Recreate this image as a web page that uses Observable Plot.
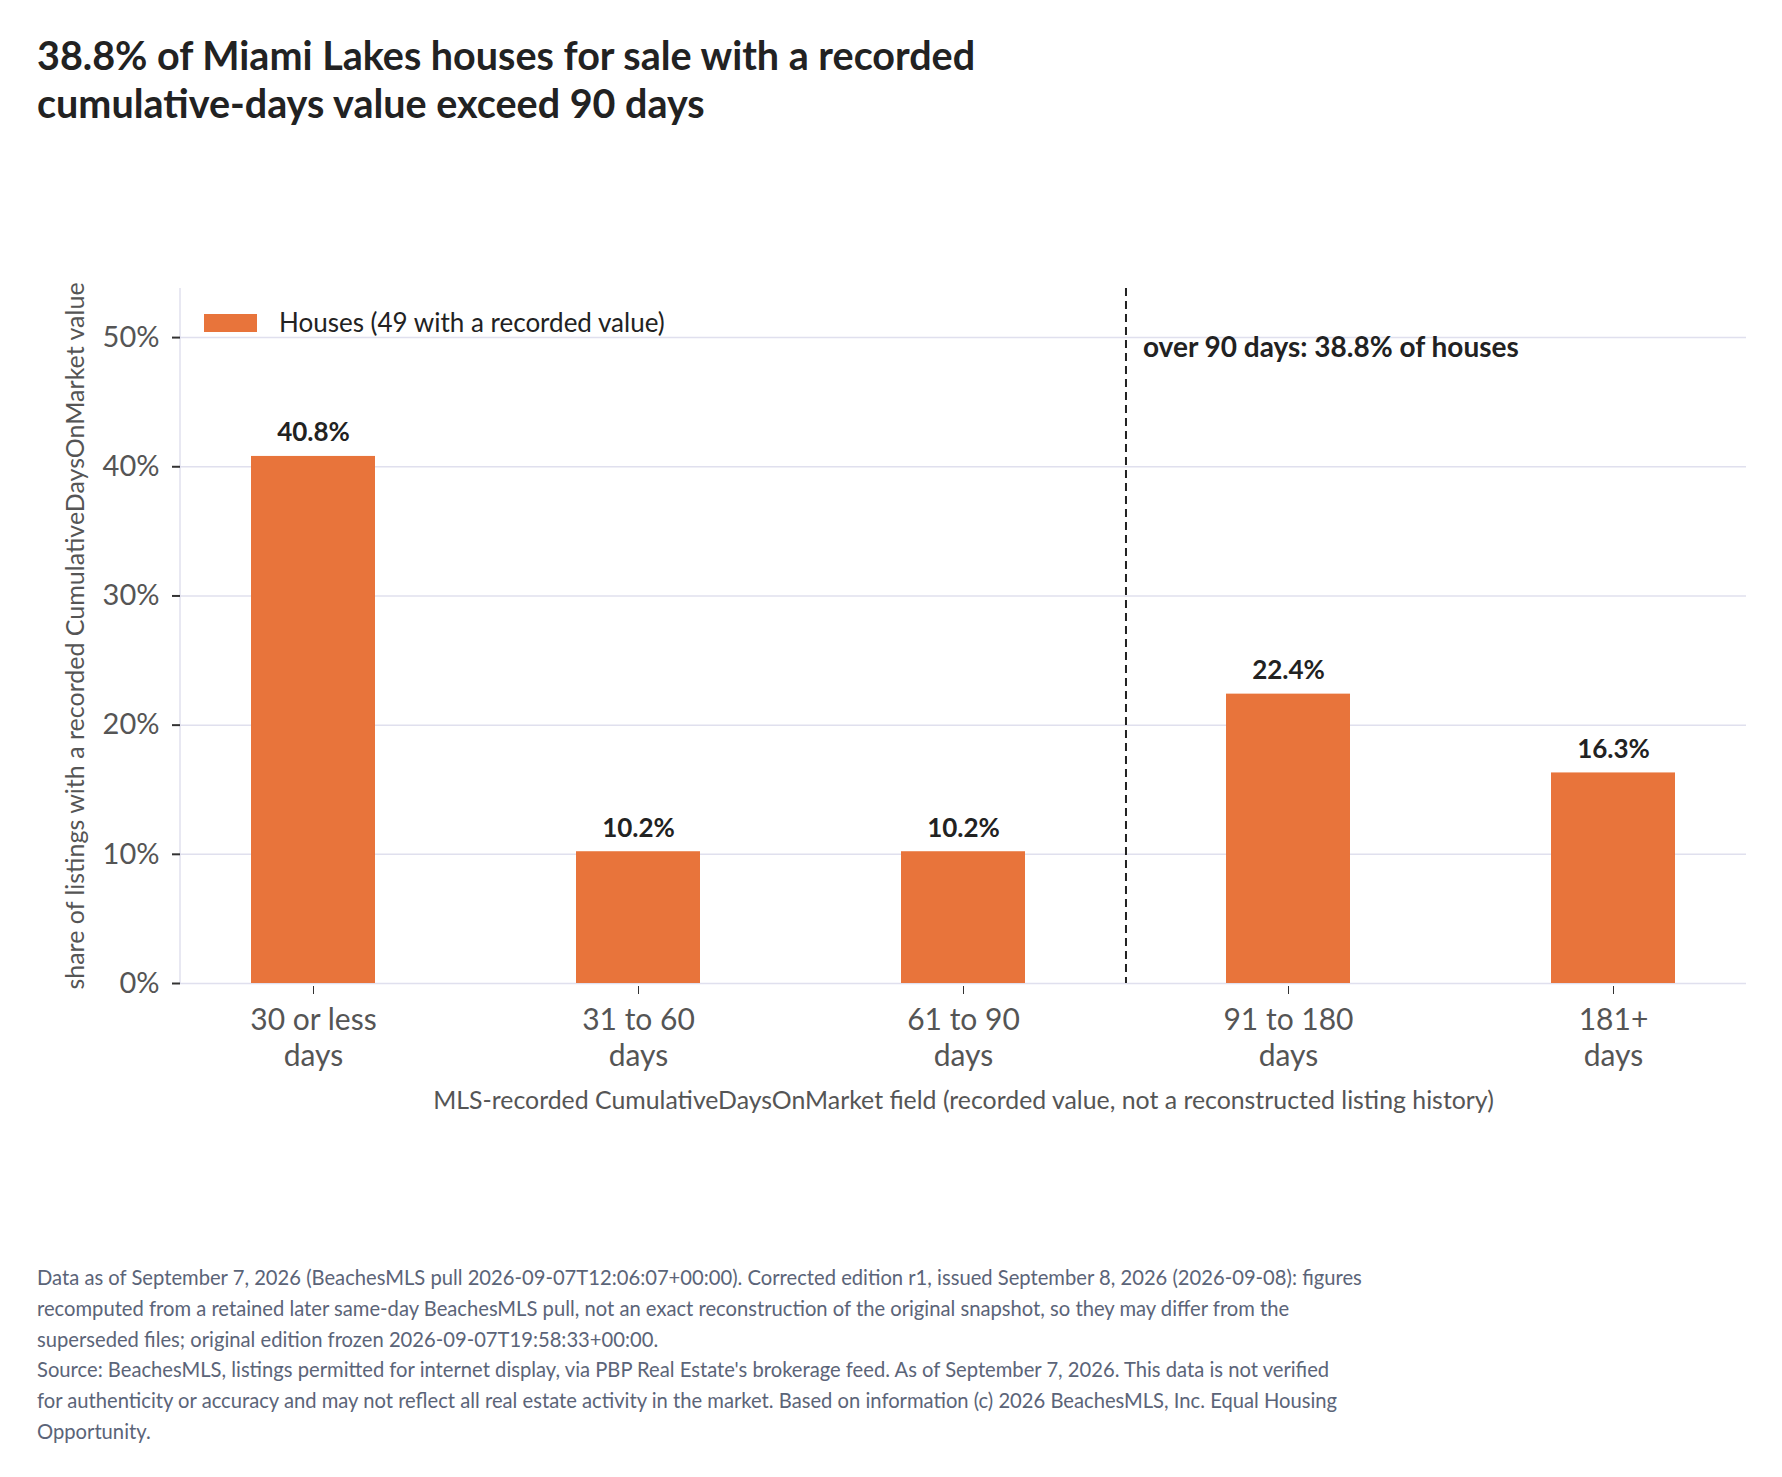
<!DOCTYPE html>
<html>
<head>
<meta charset="utf-8">
<script src="https://cdn.jsdelivr.net/npm/d3@7"></script>
<script src="https://cdn.jsdelivr.net/npm/@observablehq/plot@0.6"></script>
<style>
html,body{margin:0;padding:0;background:#fff;}
body{width:1782px;height:1477px;position:relative;font-family:Lato,sans-serif;overflow:hidden;}
#title{position:absolute;left:37px;top:31px;font-size:39.5px;line-height:47.5px;font-weight:700;color:#222;white-space:nowrap;}
#chart{position:absolute;left:0;top:250px;}
#swatch{position:absolute;left:204px;top:314px;width:53px;height:18px;}
#legendText{position:absolute;left:279px;top:307px;font-size:26px;line-height:31.5px;color:#222;white-space:nowrap;}
#footer{position:absolute;left:37px;top:1262px;font-size:20.2px;line-height:30.8px;color:#5b6478;white-space:nowrap;}
</style>
</head>
<body>
<div id="title"></div>
<div id="chart"></div>
<div id="swatch"></div>
<div id="legendText"></div>
<div id="footer"></div>
<script>
// ---- data ----
const categories = ["30 or less days", "31 to 60 days", "61 to 90 days", "91 to 180 days", "181+ days"];
const tickLabels = ["30 or less\ndays", "31 to 60\ndays", "61 to 90\ndays", "91 to 180\ndays", "181+\ndays"];
const shares = [40.8, 10.2, 10.2, 22.4, 16.3];
const yTicks = [0, 10, 20, 30, 40, 50];
const yMax = 53.8;
const thresholdCategory = "91 to 180 days";
const annotationText = "over 90 days: 38.8% of houses";
const legendLabel = "Houses (49 with a recorded value)";
const yLabel = "share of listings with a recorded CumulativeDaysOnMarket value";
const xLabel = "MLS-recorded CumulativeDaysOnMarket field (recorded value, not a reconstructed listing history)";
const titleLines = ["38.8% of Miami Lakes houses for sale with a recorded", "cumulative-days value exceed 90 days"];
const footerLines = [
  "Data as of September 7, 2026 (BeachesMLS pull 2026-09-07T12:06:07+00:00). Corrected edition r1, issued September 8, 2026 (2026-09-08): figures",
  "recomputed from a retained later same-day BeachesMLS pull, not an exact reconstruction of the original snapshot, so they may differ from the",
  "superseded files; original edition frozen 2026-09-07T19:58:33+00:00.",
  "Source: BeachesMLS, listings permitted for internet display, via PBP Real Estate's brokerage feed. As of September 7, 2026. This data is not verified",
  "for authenticity or accuracy and may not reflect all real estate activity in the market. Based on information (c) 2026 BeachesMLS, Inc. Equal Housing",
  "Opportunity."
];

const barColor = "#e8743b";
const gridColor = "#e0e0ee";

const data = categories.map((c, i) => ({category: c, share: shares[i], label: shares[i].toFixed(1) + "%"}));

// ---- layout ----
const W = 1782, H = 880, mL = 180, mR = 36, mT = 38, mB = 147;
const pIn = 0.618, pOut = 0.218;
const step = (W - mL - mR) / (categories.length - pIn + 2 * pOut);

// ---- text blocks ----
document.getElementById("title").innerHTML = titleLines.join("<br>");
document.getElementById("footer").innerHTML = footerLines.join("<br>");
document.getElementById("swatch").style.background = barColor;
document.getElementById("legendText").textContent = legendLabel;

const chart = Plot.plot({
  width: W, height: H,
  marginLeft: mL, marginRight: mR, marginTop: mT, marginBottom: mB,
  style: {fontFamily: "Lato, sans-serif", background: "#fff", overflow: "visible"},
  x: {domain: categories, paddingInner: pIn, paddingOuter: pOut, label: null},
  y: {domain: [0, yMax], label: null},
  marks: [
    Plot.gridY(yTicks, {stroke: gridColor, strokeOpacity: 1, strokeWidth: 1.5}),
    (index, scales, values, dims) => d3.create("svg:line")
      .attr("x1", dims.marginLeft).attr("x2", dims.marginLeft)
      .attr("y1", dims.marginTop).attr("y2", dims.height - dims.marginBottom)
      .attr("stroke", gridColor).attr("stroke-width", 1.5).node(),
    Plot.barY(data, {x: "category", y: "share", fill: barColor}),
    Plot.text(data, {x: "category", y: "share", text: "label", lineAnchor: "bottom", dy: -15,
      fontSize: 26, fontWeight: 700, fill: "#222"}),
    Plot.ruleX([thresholdCategory], {x: d => d, dx: -step / 2, stroke: "#222", strokeWidth: 2, strokeDasharray: "8,5"}),
    Plot.text([annotationText], {x: () => thresholdCategory, frameAnchor: "top", text: d => d,
      dx: -step / 2 + 17, dy: 68, lineAnchor: "bottom", textAnchor: "start",
      fontSize: 28, fontWeight: 700, fill: "#222"}),
    Plot.axisY(yTicks, {tickSize: 8, tickPadding: 13, fontSize: 29, tickFormat: d => d + "%",
      stroke: "#333", strokeWidth: 2, fill: "#555", label: null}),
    Plot.axisX({tickSize: 8, tickPadding: 11, dy: 3, fontSize: 30, lineHeight: 1.17,
      tickFormat: d => tickLabels[categories.indexOf(d)], stroke: "#333", fill: "#555", label: null}),
    Plot.text([yLabel], {frameAnchor: "left", text: d => d, rotate: -90, dx: -105, lineAnchor: "middle",
      textAnchor: "middle", fontSize: 25, fill: "#555"}),
    Plot.text([xLabel], {frameAnchor: "bottom", text: d => d, dy: 125, lineAnchor: "bottom",
      fontSize: 24.85, fill: "#555"})
  ]
});
document.getElementById("chart").appendChild(chart);
</script>
</body>
</html>
